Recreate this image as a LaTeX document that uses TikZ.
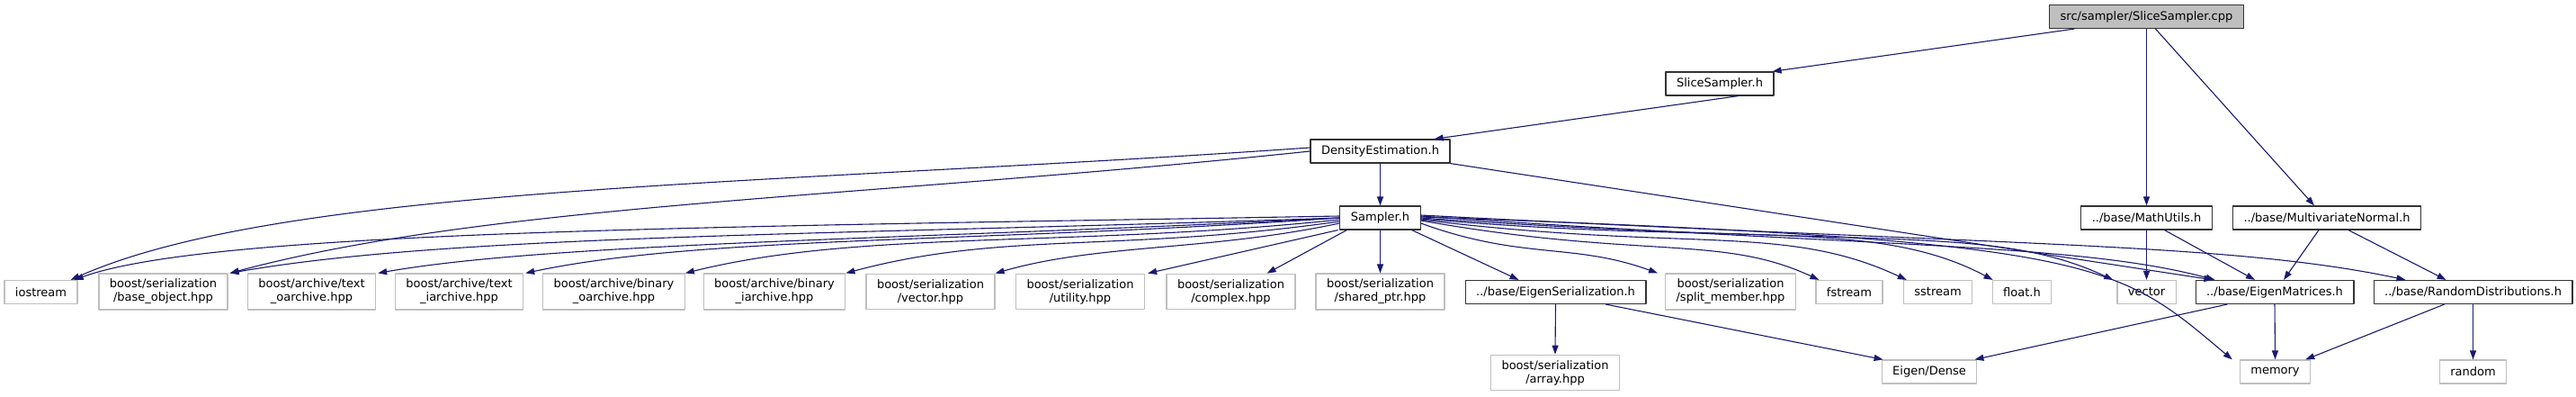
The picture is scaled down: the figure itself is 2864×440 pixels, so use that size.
\documentclass[tikz,border=0pt]{standalone}
\usepackage{fontspec}
\setmainfont{DejaVu Sans}
\usepackage{xcolor}
\usetikzlibrary{arrows.meta}
\definecolor{edgeblue}{HTML}{191970}
\definecolor{boxgray}{HTML}{BFBFBF}
\tikzset{
  every picture/.style={line join=round, line cap=round, >={Triangle[length=10pt,width=7pt]}},
  box/.style={draw=black!80, line width=1.2pt, fill=white, inner xsep=12pt, inner ysep=6pt,
    minimum height=26pt, align=center, font=\fontsize{13}{15}\selectfont},
  sysbox/.style={box, draw=boxgray},
  mainbox/.style={box, fill=boxgray},
  edge/.style={->, draw=edgeblue, line width=1.1pt},
}

\begin{document}
\begin{tikzpicture}[x=1pt, y=1pt]
\useasboundingbox (0,0) rectangle (2864,-440);
% files of the project
\node[mainbox] (cpp) at (2386.5,-18.5) {src/sampler/SliceSampler.cpp};
\node[box] (slice) at (1912,-93) {SliceSampler.h};
\node[box] (dens) at (1534.5,-168) {DensityEstimation.h};
\node[box] (samp) at (1534.5,-242) {Sampler.h};
\node[box] (mathu) at (2386.5,-242) {../base/MathUtils.h};
\node[box] (mvn) at (2587,-242) {../base/MultivariateNormal.h};
\node[box] (eigser) at (1729.5,-324.5) {../base/EigenSerialization.h};
\node[box] (eigmat) at (2529,-324.5) {../base/EigenMatrices.h};
\node[box] (randd) at (2749.5,-324.5) {../base/RandomDistributions.h};
% system and library headers
\node[sysbox] (io) at (45.5,-324.5) {iostream};
\node[sysbox] (baseobj) at (181.5,-324) {boost/serialization\\/base\_object.hpp};
\node[sysbox] (txto) at (346.5,-324) {boost/archive/text\\\_oarchive.hpp};
\node[sysbox] (txti) at (510.5,-324) {boost/archive/text\\\_iarchive.hpp};
\node[sysbox] (bino) at (682.5,-324) {boost/archive/binary\\\_oarchive.hpp};
\node[sysbox] (bini) at (861,-324) {boost/archive/binary\\\_iarchive.hpp};
\node[sysbox] (vechpp) at (1034.5,-324) {boost/serialization\\/vector.hpp};
\node[sysbox] (util) at (1201,-324) {boost/serialization\\/utility.hpp};
\node[sysbox] (cplx) at (1368.5,-324) {boost/serialization\\/complex.hpp};
\node[sysbox] (shptr) at (1534.5,-324) {boost/serialization\\/shared\_ptr.hpp};
\node[sysbox] (splitm) at (1924,-324) {boost/serialization\\/split\_member.hpp};
\node[sysbox] (fstr) at (2056,-324.5) {fstream};
\node[sysbox] (sstr) at (2154.5,-324.5) {sstream};
\node[sysbox] (flt) at (2248,-324.5) {float.h};
\node[sysbox] (vec) at (2386.5,-324.5) {vector};
\node[sysbox] (arr) at (1729,-414) {boost/serialization\\/array.hpp};
\node[sysbox] (dense) at (2145,-413) {Eigen/Dense};
\node[sysbox] (mem) at (2529.5,-413) {memory};
\node[sysbox] (rnd) at (2749.5,-413) {random};

% includes of the .cpp file
\draw[edge] ([xshift=28pt]cpp.south west) -- ([xshift=-2pt]slice.north east);
\draw[edge] (cpp.south) -- (mathu.north);
\draw[edge] ([xshift=10pt]cpp.south) -- ([xshift=-14pt]mvn.north);
\draw[edge] ([xshift=-40pt]slice.south east) -- ([xshift=-18pt]dens.north east);
\draw[edge] (dens.south) -- (samp.north);
\draw[edge] ([yshift=4pt]dens.west) .. controls +(184:600) and +(24:260) .. ([xshift=-8pt]io.north east);
\draw[edge] (dens.west) .. controls +(186:500) and +(15:300) .. ([xshift=2pt]baseobj.north east);
\draw[edge] (dens.south east) -- ([xshift=20pt]eigmat.north west);

% includes of Sampler.h, to the left
\draw[edge] ([yshift=2pt]samp.west) .. controls +(181:700) and +(20:160) .. ([xshift=-4pt]io.north east);
\draw[edge] (samp.west) .. controls +(182:550) and +(10:250) .. ([xshift=2pt]baseobj.north east);
\draw[edge] (samp.west) .. controls +(183:450) and +(10:200) .. ([xshift=2pt]txto.north east);
\draw[edge] (samp.west) .. controls +(184:400) and +(12:200) .. ([xshift=2pt]txti.north east);
\draw[edge] ([yshift=-2pt]samp.west) .. controls +(186:300) and +(14:200) .. (bino.north east);
\draw[edge] ([yshift=-4pt]samp.west) .. controls +(188:250) and +(15:180) .. (bini.north east);
\draw[edge] ([yshift=-6pt]samp.west) .. controls +(192:150) and +(16:120) .. (vechpp.north east);
\draw[edge] ([xshift=-2pt]samp.south west) -- ([xshift=3pt]util.north east);
\draw[edge] ([xshift=8pt]samp.south west) -- ([xshift=-32pt]cplx.north east);
\draw[edge] (samp.south) -- (shptr.north);

% includes of Sampler.h, to the right
\draw[edge] ([xshift=-10pt]samp.south east) -- ([xshift=60pt]eigser.north west);
\draw[edge] ([yshift=-6pt]samp.east) .. controls +(-20:120) and +(160:100) .. ([xshift=-8pt]splitm.north west);
\draw[edge] ([yshift=-3pt]samp.east) .. controls +(-10:250) and +(155:120) .. ([xshift=4pt]fstr.north west);
\draw[edge] ([yshift=-2pt]samp.east) .. controls +(-7:300) and +(155:150) .. ([xshift=4pt]sstr.north west);
\draw[edge] ([yshift=-1pt]samp.east) .. controls +(-5:350) and +(152:150) .. ([xshift=1pt]flt.north west);
\draw[edge] (samp.east) .. controls +(-4:500) and +(155:150) .. ([xshift=-4pt]vec.north west);
\draw[edge] ([yshift=1pt]samp.east) .. controls +(-2:760) and +(140:170) .. ([xshift=-8pt]mem.north west);
\draw[edge] ([yshift=2pt]samp.east) .. controls +(-4:500) and +(165:160) .. ([xshift=22pt]eigmat.north west);
\draw[edge] ([yshift=3pt]samp.east) .. controls +(-3:650) and +(168:200) .. ([xshift=36pt]randd.north west);

% includes of the base headers
\draw[edge] (eigser.south) -- (arr.north);
\draw[edge] ([xshift=-45pt]eigser.south east) -- ([xshift=2pt]dense.north west);
\draw[edge] (mathu.south) -- (vec.north);
\draw[edge] ([xshift=20pt]mathu.south) -- ([xshift=-22pt]eigmat.north);
\draw[edge] ([xshift=-9pt]mvn.south) -- ([xshift=10pt]eigmat.north);
\draw[edge] ([xshift=24pt]mvn.south) -- ([xshift=-30pt]randd.north);
\draw[edge] ([xshift=-53pt]eigmat.south) -- ([xshift=-3pt]dense.north east);
\draw[edge] (eigmat.south) -- (mem.north);
\draw[edge] ([xshift=-32pt]randd.south) -- ([xshift=-6pt]mem.north east);
\draw[edge] (randd.south) -- (rnd.north);
\end{tikzpicture}
\end{document}
